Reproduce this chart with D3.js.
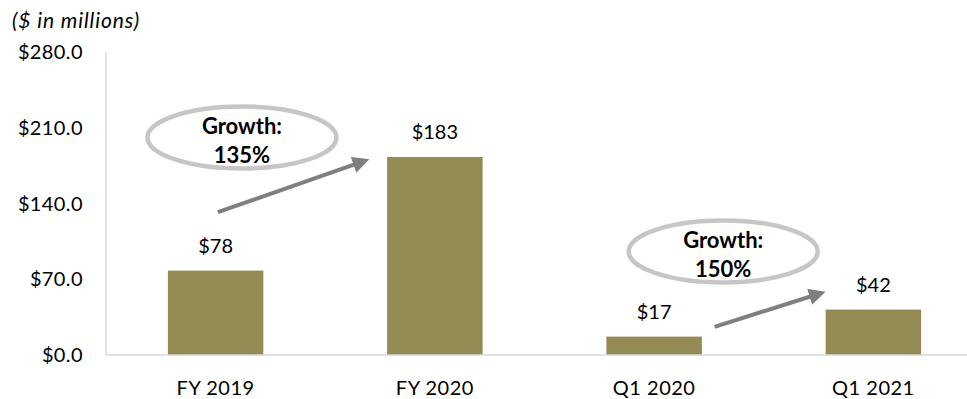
<!DOCTYPE html>
<html>
<head>
<meta charset="utf-8">
<script src="https://cdn.jsdelivr.net/npm/d3@7"></script>
<style>
  body { margin: 0; background: #fff; }
  svg text { font-family: Lato, "Liberation Sans", sans-serif; fill: #000; }
</style>
</head>
<body>
<svg width="967" height="399"></svg>
<script>
// chart data
const categories = ["FY 2019", "FY 2020", "Q1 2020", "Q1 2021"];
const revenue = [78, 183, 17, 42];
const valueLabels = ["$78", "$183", "$17", "$42"];
const yTicks = [0, 70, 140, 210, 280];

// growth callouts (positions in band steps / data units)
const growthLabels = ["135%", "150%"];
const growthBubbles = [
    { cat: "FY 2019", dx: 0.12, v: 201 },
    { cat: "Q1 2020", dx: 0.315, v: 95.7 }
];
const growthArrows = [
    { from: ["FY 2019", 0.01, 132], to: ["FY 2020", -0.32, 180] },
    { from: ["Q1 2020", 0.276, 26], to: ["Q1 2021", -0.24, 58] }
];

const svg = d3.select("svg");
const plotLeft = 106, plotRight = 983, plotTop = 52, plotBottom = 355;

const x = d3.scaleBand()
    .domain(categories)
    .range([plotLeft, plotRight])
    .paddingInner(0.5645)
    .paddingOuter(0.28225);

const y = d3.scaleLinear()
    .domain([0, 280])
    .range([plotBottom, plotTop]);

const cx = (c, d) => x(c) + x.bandwidth() / 2 + d * x.step();

// title
svg.append("text")
    .attr("x", 12)
    .attr("y", 28)
    .style("font-size", "21px")
    .style("font-style", "italic")
    .style("letter-spacing", "0.9px")
    .text("($ in millions)");

// y axis labels
svg.append("g")
    .selectAll("text")
    .data(yTicks)
    .enter().append("text")
    .attr("x", 83)
    .attr("y", d => y(d))
    .attr("dy", "0.35em")
    .attr("text-anchor", "end")
    .style("font-size", "20px")
    .style("letter-spacing", "0.4px")
    .text(d => "$" + d.toFixed(1));

// axis lines
svg.append("line")
    .attr("x1", plotLeft).attr("x2", plotLeft)
    .attr("y1", plotTop).attr("y2", plotBottom)
    .attr("stroke", "#d9d9d9").attr("stroke-width", 1.5);

// bars
svg.append("g")
    .selectAll("rect")
    .data(revenue)
    .enter().append("rect")
    .attr("x", (d, i) => x(categories[i]))
    .attr("y", d => y(d))
    .attr("width", x.bandwidth())
    .attr("height", d => y(0) - y(d))
    .attr("fill", "#948a54");

svg.append("line")
    .attr("x1", plotLeft).attr("x2", 967)
    .attr("y1", plotBottom).attr("y2", plotBottom)
    .attr("stroke", "#d9d9d9").attr("stroke-width", 1.5);

// value labels
svg.append("g")
    .selectAll("text")
    .data(revenue)
    .enter().append("text")
    .attr("x", (d, i) => cx(categories[i], 0))
    .attr("y", d => y(d) - 25)
    .attr("dy", "0.35em")
    .attr("text-anchor", "middle")
    .style("font-size", "20px")
    .text((d, i) => valueLabels[i]);

// category labels
svg.append("g")
    .selectAll("text")
    .data(categories)
    .enter().append("text")
    .attr("x", d => cx(d, 0))
    .attr("y", 388)
    .attr("dy", "0.35em")
    .attr("text-anchor", "middle")
    .style("font-size", "20px")
    .style("letter-spacing", "0.5px")
    .text(d => d);

// arrows
svg.append("defs").append("marker")
    .attr("id", "head")
    .attr("viewBox", "0 0 10 10")
    .attr("refX", 2).attr("refY", 5)
    .attr("markerWidth", 4.2).attr("markerHeight", 4.2)
    .attr("orient", "auto")
    .append("path")
    .attr("d", "M0,0L10,5L0,10Z")
    .attr("fill", "#7f7f7f");

svg.append("g")
    .selectAll("line")
    .data(growthArrows)
    .enter().append("line")
    .attr("x1", d => cx(d.from[0], d.from[1]))
    .attr("y1", d => y(d.from[2]))
    .attr("x2", d => cx(d.to[0], d.to[1]) - 8)
    .attr("y2", d => y(d.to[2]) + 3.5)
    .attr("stroke", "#7f7f7f")
    .attr("stroke-width", 4)
    .attr("marker-end", "url(#head)");

// growth bubbles
const bubble = svg.append("g")
    .selectAll("g")
    .data(growthBubbles)
    .enter().append("g")
    .attr("transform", d => `translate(${cx(d.cat, d.dx)},${y(d.v)})`);

bubble.append("ellipse")
    .attr("rx", 94.5)
    .attr("ry", 31)
    .attr("fill", "none")
    .attr("stroke", "#c6c6c6")
    .attr("stroke-width", 4.5);

bubble.append("text")
    .attr("y", -11)
    .attr("dy", "0.35em")
    .attr("text-anchor", "middle")
    .style("font-size", "22px")
    .style("font-weight", "bold")
    .text("Growth:");

bubble.append("text")
    .attr("y", 18)
    .attr("dy", "0.35em")
    .attr("text-anchor", "middle")
    .style("font-size", "22px")
    .style("font-weight", "bold")
    .text((d, i) => growthLabels[i]);
</script>
</body>
</html>
